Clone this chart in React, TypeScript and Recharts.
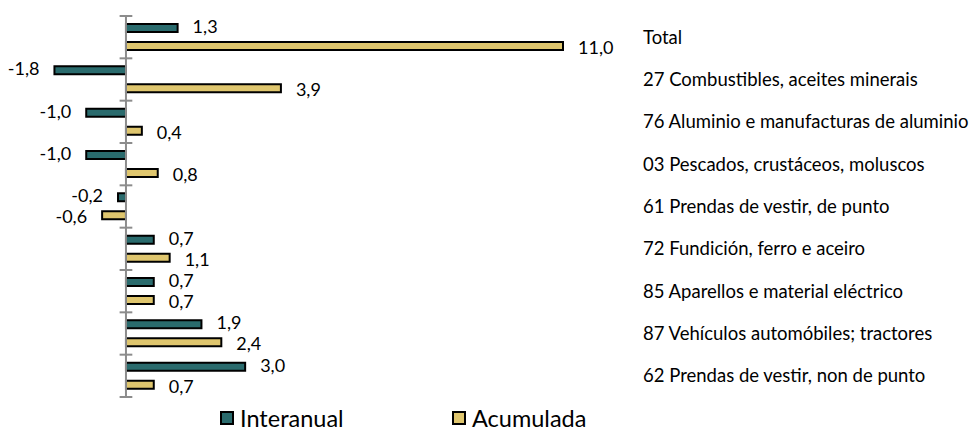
import { Bar, BarChart, LabelList, Legend, ReferenceLine, XAxis, YAxis } from "recharts";

const categories = [
  "Total",
  "27 Combustibles, aceites minerais",
  "76 Aluminio e manufacturas de aluminio",
  "03 Pescados, crustáceos, moluscos",
  "61 Prendas de vestir, de punto",
  "72 Fundición, ferro e aceiro",
  "85 Aparellos e material eléctrico",
  "87 Vehículos automóbiles; tractores",
  "62 Prendas de vestir, non de punto",
];
const interanual = [1.3, -1.8, -1.0, -1.0, -0.2, 0.7, 0.7, 1.9, 3.0];
const acumulada = [11.0, 3.9, 0.4, 0.8, -0.6, 1.1, 0.7, 2.4, 0.7];

const data = categories.map((name, i) => ({ name, interanual: interanual[i], acumulada: acumulada[i] }));

const TEAL = "#2a6b6d";
const GOLD = "#dfc66e";
const FONT = "Lato, 'Open Sans', sans-serif";

const fmt = (v: number) => v.toFixed(1).replace(".", ",");

// labels sit 15px beyond the bar end, on the side of the sign
const makeLabel = (shift: number) => (props: any) => {
  const { x, y, width, height, value } = props;
  const left = Math.min(x, x + width);
  const right = Math.max(x, x + width);
  const pos = value >= 0;
  return (
    <text
      x={pos ? right + 15 : left - 15}
      y={y + height / 2 + shift}
      textAnchor={pos ? "start" : "end"}
      dominantBaseline="central"
      fontFamily={FONT}
      fontSize={18}
      fill="#000"
    >
      {fmt(value)}
    </text>
  );
};
const InterLabel = makeLabel(-2);
const AcumLabel = makeLabel(1);

const LegendBox = () => (
  <div style={{ display: "flex", paddingLeft: 220, paddingTop: 9, fontFamily: FONT, fontSize: 23.5, lineHeight: "24px" }}>
    {[
      { label: "Interanual", color: TEAL },
      { label: "Acumulada", color: GOLD },
    ].map((it) => (
      <div key={it.label} style={{ display: "flex", alignItems: "center", width: 232 }}>
        <span style={{ width: 14, height: 14, boxSizing: "border-box", border: "2px solid #000", background: it.color, marginRight: 6 }} />
        <span>{it.label}</span>
      </div>
    ))}
  </div>
);

export default function App() {
  return (
    <div style={{ position: "absolute", left: 0, top: 0, width: 976, height: 430, background: "#fff" }}>
      <BarChart
        width={976}
        height={430}
        data={data}
        layout="vertical"
        margin={{ top: 16, right: 0, bottom: 0, left: 46.5 }}
        barSize={8}
        barGap={10}
        barCategoryGap={8}
      >
        <XAxis type="number" domain={[-2, 11]} hide />
        <YAxis
          type="category"
          dataKey="name"
          orientation="right"
          width={413}
          axisLine={false}
          tickLine={false}
          tickMargin={74}
          interval={0}
          tick={{ fill: "#000", fontSize: 18.5, fontFamily: FONT }}
        />
        <Legend verticalAlign="bottom" height={33} wrapperStyle={{ left: 0, width: 976 }} content={<LegendBox />} />
        <ReferenceLine x={0} stroke="#8c8c8c" strokeWidth={2} />
        {categories.map((c) => (
          <ReferenceLine
            key={c}
            position="start"
            segment={[
              { x: -0.16, y: c },
              { x: 0.16, y: c },
            ]}
            stroke="#8c8c8c"
            strokeWidth={2}
          />
        ))}
        <ReferenceLine
          position="end"
          segment={[
            { x: -0.16, y: categories[categories.length - 1] },
            { x: 0.16, y: categories[categories.length - 1] },
          ]}
          stroke="#8c8c8c"
          strokeWidth={2}
        />
        <Bar dataKey="interanual" name="Interanual" fill={TEAL} stroke="#000" strokeWidth={2} isAnimationActive={false}>
          <LabelList dataKey="interanual" content={InterLabel} />
        </Bar>
        <Bar dataKey="acumulada" name="Acumulada" fill={GOLD} stroke="#000" strokeWidth={2} isAnimationActive={false}>
          <LabelList dataKey="acumulada" content={AcumLabel} />
        </Bar>
      </BarChart>
    </div>
  );
}
